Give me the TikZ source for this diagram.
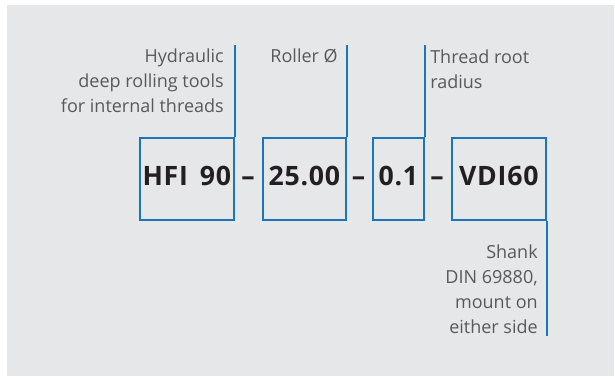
\documentclass[tikz,border=0pt]{standalone}
\usepackage{fontspec}
\setmainfont{Open Sans}
\definecolor{panel}{HTML}{E6E7E8}
\definecolor{lineblue}{HTML}{1B75BB}
\definecolor{labelgray}{HTML}{58595B}
\definecolor{codeblack}{HTML}{231F20}
\begin{document}
\begin{tikzpicture}[x=0.75pt,y=-0.75pt,
  codebox/.style={draw=lineblue,line width=1.3pt,rectangle,inner sep=0pt,anchor=north west},
  codetext/.style={font=\fontsize{20}{22}\selectfont\bfseries\addfontfeatures{LetterSpace=3},text=codeblack,inner sep=0pt,anchor=base},
  lbl/.style={font=\fontsize{13.5}{18.75}\selectfont,text=labelgray,inner sep=0pt},
  lead/.style={draw=lineblue,line width=1.3pt}]
\useasboundingbox (0,0) rectangle (615,376);
\fill[white] (0,0) rectangle (615,376);
\fill[panel] (7,5) rectangle (614,376);
% boxes
\node[codebox,minimum width=94*0.75pt,minimum height=82*0.75pt] (hfi) at (139,137) {};
\node[codebox,minimum width=83*0.75pt,minimum height=82*0.75pt] (roller) at (262,137) {};
\node[codebox,minimum width=51*0.75pt,minimum height=82*0.75pt] (root) at (372,137) {};
\node[codebox,minimum width=94*0.75pt,minimum height=82*0.75pt] (vdi) at (451,137) {};
% code texts
\node[codetext] (thfi) at ([yshift=-7*0.75pt]hfi.center) {HFI\hspace{0.45em}90};
\node[codetext] (troller) at ([yshift=-7*0.75pt]roller.center) {25.00};
\node[codetext] (troot) at ([yshift=-7*0.75pt]root.center) {0.1};
\node[codetext] (tvdi) at ([yshift=-7*0.75pt]vdi.center) {VDI60};
\node[codetext] (d1) at (248,185) {–};
\node[codetext] (d2) at (358.5,185) {–};
\node[codetext] (d3) at (437,185) {–};
% leader ends
\coordinate (e1) at (233,45);
\coordinate (e2) at (345,45);
\coordinate (e3) at (423,45);
\coordinate (e4) at (545,336);
\draw[lead] (hfi.north east) -- (hfi.north east |- e1);
\draw[lead] (roller.north east) -- (roller.north east |- e2);
\draw[lead] (root.north east) -- (root.north east |- e3);
\draw[lead] (vdi.south east) -- (vdi.south east |- e4);
% labels
\node[lbl,align=right,anchor=base east] (l1) at (224,112) {Hydraulic\\deep rolling tools\\for internal threads};
\node[lbl,align=right,anchor=base east] (l2) at (338,62) {Roller Ø};
\node[lbl,align=left,anchor=base west] (l3) at (430,88) {Thread root\\radius};
\node[lbl,align=right,anchor=base east] (l4) at (538,333) {Shank\\DIN 69880,\\mount on\\either side};
\end{tikzpicture}
\end{document}
